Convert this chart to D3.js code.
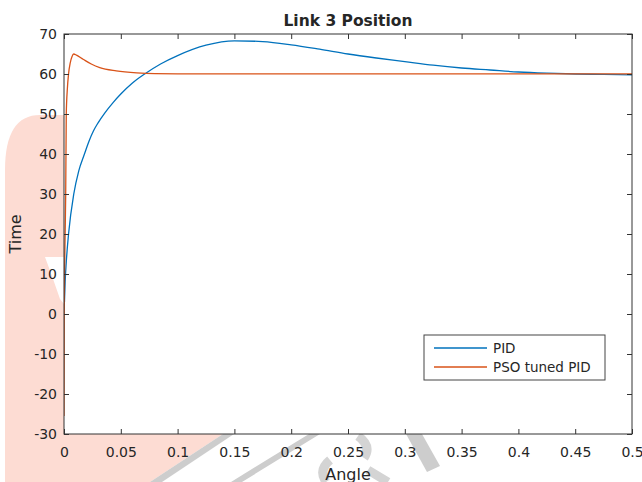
<!DOCTYPE html>
<html>
<head>
<meta charset="utf-8">
<script src="https://cdn.jsdelivr.net/npm/d3@7"></script>
<style>
  body { margin: 0; background: #fff; }
  svg { display: block; }
  text { font-family: "DejaVu Sans", sans-serif; fill: #262626; }
</style>
</head>
<body>
<svg width="642" height="482"></svg>
<script>
// Link 3 Position - PID vs PSO tuned PID step response

// PID response (blue)
var pidAngle = [0.0004, 0.001, 0.002, 0.004, 0.0086, 0.013, 0.018, 0.022, 0.026, 0.03, 0.036, 0.043,
                0.05, 0.06, 0.071, 0.085, 0.1, 0.125, 0.15, 0.175, 0.2, 0.225, 0.25, 0.275,
                0.3, 0.325, 0.35, 0.375, 0.4, 0.425, 0.45, 0.475, 0.5];
var pidTime  = [3, 8, 13, 20, 30, 35.8, 40, 43.2, 45.8, 47.8, 50.3, 52.8,
                55, 57.7, 60, 62.5, 64.6, 67.2, 68.3, 68.1, 67.3, 66.2, 65, 64,
                63.1, 62.2, 61.5, 61, 60.5, 60.2, 60, 59.9, 59.8];

// PSO tuned PID response (orange)
var psoAngle = [0, 0.0002, 0.001, 0.0015, 0.002, 0.003, 0.004, 0.0055, 0.007, 0.0085, 0.011,
                0.0168, 0.024, 0.0315, 0.046, 0.064, 0.08, 0.1, 0.2, 0.3, 0.4, 0.5];
var psoTime  = [-25.5, 0, 20, 30, 50, 56.5, 60, 62.8, 64.3, 65, 64.7,
                63.7, 62.5, 61.6, 60.8, 60.3, 60.1, 60.05, 60.05, 60.05, 60.05, 60.05];

var xTicks = [0, 0.05, 0.1, 0.15, 0.2, 0.25, 0.3, 0.35, 0.4, 0.45, 0.5];
var xTickLabels = ["0", "0.05", "0.1", "0.15", "0.2", "0.25", "0.3", "0.35", "0.4", "0.45", "0.5"];
var yTicks = [-30, -20, -10, 0, 10, 20, 30, 40, 50, 60, 70];

var seriesNames = ["PID", "PSO tuned PID"];
var seriesColors = ["#0072BD", "#D95319"];

var svg = d3.select("svg");

var plotLeft = 64, plotRight = 632, plotTop = 34, plotBottom = 434;

var x = d3.scaleLinear().domain([0, 0.5]).range([plotLeft, plotRight]);
var y = d3.scaleLinear().domain([-30, 70]).range([plotBottom, plotTop]);

// watermark behind everything
var wm = svg.append("g").attr("class", "watermark");
wm.append("path")
    .attr("d", "M5,482 L5,170 Q5,115 40,115 L64,115 L64,434 L223,434 L150,482 Z")
    .attr("fill", "#fddcd3");
wm.append("path")
    .attr("d", "M45,257 L64,257 L64,304 L60,299 L52,276 Z")
    .attr("fill", "#fff");
wm.selectAll("path.band")
    .data([
      "M223,434 L234,434 L162,482 L150,482 Z",
      "M309,434 L320,434 L242,482 L231,482 Z",
      "M406,434 L422,434 L440,466 L427,472 Z"
    ])
    .enter().append("path")
    .attr("class", "band")
    .attr("d", function(d) { return d; })
    .attr("fill", "#cdcdcd");
wm.append("path")
    .attr("d", "M358,436 Q372,446 364,458 M326,482 Q318,470 330,460 M368,470 L388,482")
    .attr("fill", "none")
    .attr("stroke", "#d4d4d4")
    .attr("stroke-width", 9);

// plot area
svg.append("rect")
    .attr("x", plotLeft).attr("y", plotTop)
    .attr("width", plotRight - plotLeft).attr("height", plotBottom - plotTop)
    .attr("fill", "#fff");

svg.append("clipPath").attr("id", "clip")
  .append("rect")
    .attr("x", plotLeft).attr("y", plotTop)
    .attr("width", plotRight - plotLeft).attr("height", plotBottom - plotTop);

var line = d3.line()
    .x(function(d) { return x(d[0]); })
    .y(function(d) { return y(d[1]); })
    .curve(d3.curveMonotoneX);

var series = [
  d3.zip(pidAngle, pidTime),
  d3.zip(psoAngle, psoTime)
];

svg.append("g")
    .attr("clip-path", "url(#clip)")
  .selectAll("path")
  .data(series)
  .enter().append("path")
    .attr("d", line)
    .attr("fill", "none")
    .attr("stroke", function(d, i) { return seriesColors[i]; })
    .attr("stroke-width", 1.3);

// axes with inward ticks
var xAxis = svg.append("g")
    .attr("transform", "translate(0," + plotBottom + ")")
    .call(d3.axisBottom(x).tickValues(xTicks).tickSizeInner(-5).tickSizeOuter(0)
          .tickFormat(function(d, i) { return xTickLabels[i]; }));
xAxis.selectAll("text").attr("y", 23).attr("dy", 0).style("font-size", "14px");

var yAxis = svg.append("g")
    .attr("transform", "translate(" + plotLeft + ",0)")
    .call(d3.axisLeft(y).tickValues(yTicks).tickSizeInner(-5).tickSizeOuter(0)
          .tickFormat(function(d) { return String(d); }));
yAxis.selectAll("text").attr("x", -7).attr("dy", "0.35em").style("font-size", "14px");

svg.append("g")
    .attr("transform", "translate(0," + plotTop + ")")
    .call(d3.axisTop(x).tickValues(xTicks).tickSizeInner(-5).tickSizeOuter(0).tickFormat(""));
svg.append("g")
    .attr("transform", "translate(" + plotRight + ",0)")
    .call(d3.axisRight(y).tickValues(yTicks).tickSizeInner(-5).tickSizeOuter(0).tickFormat(""));

svg.selectAll(".domain").remove();
svg.selectAll(".tick line").attr("stroke", "#333");
svg.selectAll(".tick text").attr("fill", "#262626").style("font-family", "DejaVu Sans, sans-serif");

svg.append("rect")
    .attr("x", plotLeft).attr("y", plotTop)
    .attr("width", plotRight - plotLeft).attr("height", plotBottom - plotTop)
    .attr("fill", "none")
    .attr("stroke", "#333")
    .attr("stroke-width", 1);

// titles
svg.append("text")
    .attr("x", (plotLeft + plotRight) / 2).attr("y", 26)
    .attr("text-anchor", "middle")
    .style("font-size", "15.5px").style("font-weight", "bold")
    .text("Link 3 Position");

svg.append("text")
    .attr("x", (plotLeft + plotRight) / 2).attr("y", 480)
    .attr("text-anchor", "middle")
    .style("font-size", "16px")
    .text("Angle");

svg.append("text")
    .attr("transform", "translate(21," + (plotTop + plotBottom) / 2 + ") rotate(-90)")
    .attr("text-anchor", "middle")
    .style("font-size", "16px")
    .text("Time");

// legend
var legend = svg.append("g").attr("transform", "translate(424,335)");
legend.append("rect")
    .attr("width", 181).attr("height", 45)
    .attr("fill", "#fff")
    .attr("stroke", "#444");
var item = legend.selectAll("g.item")
    .data(seriesNames)
  .enter().append("g")
    .attr("class", "item")
    .attr("transform", function(d, i) { return "translate(0," + (13 + i * 19) + ")"; });
item.append("line")
    .attr("x1", 10).attr("x2", 63)
    .attr("stroke", function(d, i) { return seriesColors[i]; })
    .attr("stroke-width", 1.3);
item.append("text")
    .attr("x", 69).attr("dy", "0.36em")
    .style("font-size", "13.5px")
    .text(function(d) { return d; });
</script>
</body>
</html>
